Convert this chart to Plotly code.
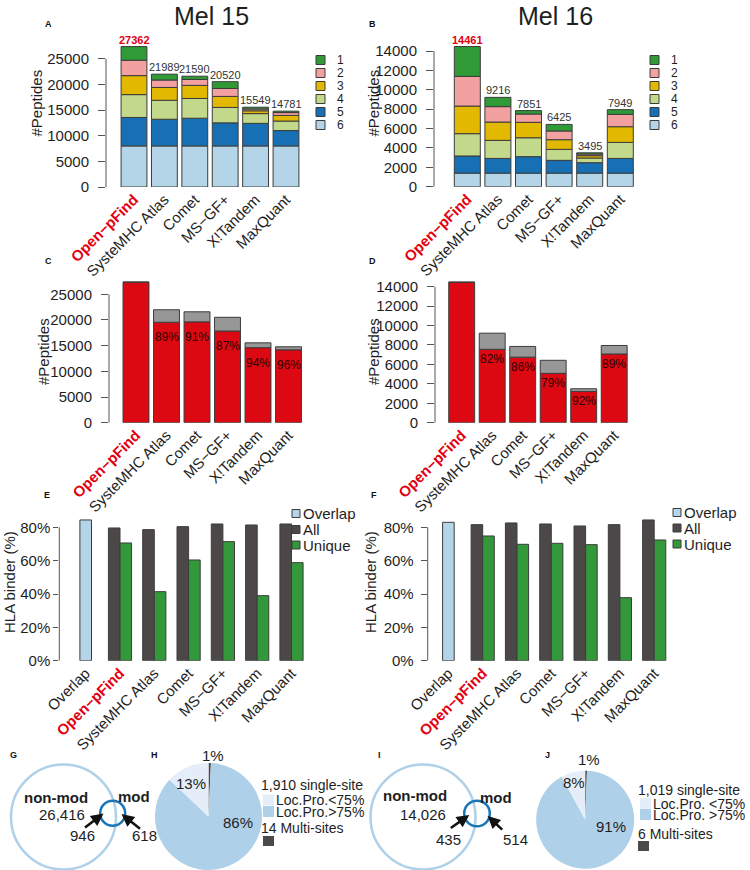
import plotly.graph_objects as go

W, H = 750, 870
FONT = "Liberation Sans, Arial, Helvetica, sans-serif"
TXT = "#1e1e1e"

# ---------------- data ----------------
tools = ["Open−pFind", "SysteMHC Atlas", "Comet", "MS−GF+", "X!Tandem", "MaxQuant"]
rank_names = ["1", "2", "3", "4", "5", "6"]

# Mel 15 peptide counts per rank
mel15_rank1 = [2662, 1139, 640, 1320, 349, 281]
mel15_rank2 = [3000, 1450, 1150, 1550, 350, 550]
mel15_rank3 = [3700, 2500, 2550, 2150, 550, 1100]
mel15_rank4 = [4450, 3700, 3850, 3000, 1900, 1850]
mel15_rank5 = [5550, 5200, 5400, 4500, 4400, 3000]
mel15_rank6 = [8000, 8000, 8000, 8000, 8000, 8000]
mel15_total = [27362, 21989, 21590, 20520, 15549, 14781]

# Mel 16 peptide counts per rank
mel16_rank1 = [3081, 956, 351, 675, 125, 489]
mel16_rank2 = [3060, 1590, 860, 900, 170, 1270]
mel16_rank3 = [2850, 1890, 1590, 1000, 240, 1620]
mel16_rank4 = [2300, 1860, 1950, 1130, 480, 1650]
mel16_rank5 = [1770, 1520, 1700, 1320, 1080, 1520]
mel16_rank6 = [1400, 1400, 1400, 1400, 1400, 1400]
mel16_total = [14461, 9216, 7851, 6425, 3495, 7949]

# peptides shared with Open-pFind
mel15_shared = [27362, 19560, 19640, 17850, 14610, 14190]
mel16_shared = [14461, 7560, 6750, 5080, 3215, 7075]

# HLA binder (%)
hla_cats = ["Overlap"] + tools
mel15_overlap = [84.4]
mel15_all = [79.6, 78.6, 80.4, 82.0, 81.4, 82.0]
mel15_unique = [70.6, 41.4, 60.4, 71.4, 39.0, 58.8]
mel16_overlap = [83.0]
mel16_all = [81.6, 82.6, 82.0, 80.8, 81.6, 84.4]
mel16_unique = [74.8, 69.8, 70.4, 69.6, 37.8, 72.4]

# Venn numbers
mel15_venn = {"nonmod": 26416, "shared": 946, "mod": 618}
mel16_venn = {"nonmod": 14026, "shared": 435, "mod": 514}

# localisation pies: [single <75%, single >75%, multi-sites]
pie_labels = ["Loc.Pro.<75%", "Loc.Pro.>75%", "Multi-sites"]
mel15_loc = [250, 1660, 14]
mel16_loc = [82, 937, 6]

# ---------------- styles ----------------
rank_colors = ["#2f9a36", "#f3a0a0", "#e2b800", "#c2d98b", "#1670b3", "#b4d4e8"]
RED = "#dc0913"
GRAY = "#979797"
C_OVER, C_ALL, C_UNI = "#b4d4e8", "#4c4848", "#33983a"
PIE_COLORS = ["#e5eef8", "#afd0e9", "#4c4949"]
EDGE = "#3c3c3c"

fig = go.Figure()
annotations = []
shapes = []


def px(p):
    return p / W


def py(p):
    return 1 - p / H


def styled(cats):
    out = []
    for c in cats:
        if c == "Open−pFind":
            out.append("<b><span style='color:#e3000f'>%s</span></b>" % c)
        else:
            out.append(c)
    return out


layout_axes = {}


def set_axes(n, xpx0, xpx1, c0, step, ypz, yptop, scale, cats, yticks, yticktext, ylinetop,
             ticklen=7, standoff=6):
    xa = "xaxis" if n == 1 else "xaxis%d" % n
    ya = "yaxis" if n == 1 else "yaxis%d" % n
    xr = "x" if n == 1 else "x%d" % n
    yr = "y" if n == 1 else "y%d" % n
    layout_axes[xa] = dict(
        domain=[px(xpx0), px(xpx1)], range=[(xpx0 - c0) / step, (xpx1 - c0) / step],
        anchor=yr, type="category", categoryorder="array", categoryarray=cats,
        tickmode="array", tickvals=cats, ticktext=styled(cats), tickangle=-45,
        tickfont=dict(size=15, color=TXT, family=FONT), ticks="", showline=False,
        showgrid=False, zeroline=False, fixedrange=True, automargin=False)
    layout_axes[ya] = dict(
        domain=[py(ypz), py(yptop)], range=[0, (ypz - yptop) / scale], anchor=xr,
        tickmode="array", tickvals=yticks, ticktext=yticktext, ticks="outside",
        ticklen=ticklen, tickwidth=1, tickcolor="#555", ticklabelstandoff=standoff,
        tickfont=dict(size=15, color=TXT, family=FONT), showline=False,
        showgrid=False, zeroline=False, fixedrange=True, automargin=False)
    shapes.append(dict(type="line", xref=xr + " domain", x0=0, x1=0, yref=yr,
                       y0=0, y1=ylinetop, line=dict(color="#555", width=1)))
    return xr, yr


# ---------------- A / B : stacked ranks ----------------
def stacked_panel(n, layers_bottom_up, totals, spec, yticks):
    xr, yr = set_axes(n, *spec, tools, yticks, [str(t) for t in yticks], yticks[-1])
    base = [0] * len(tools)
    cols = rank_colors[::-1]
    for vals, col in zip(layers_bottom_up, cols):
        fig.add_trace(go.Bar(x=tools, y=vals, base=base, width=0.85, xaxis=xr, yaxis=yr,
                             marker=dict(color=col, line=dict(color=EDGE, width=1)),
                             showlegend=False, hoverinfo="skip"))
        base = [b + v for b, v in zip(base, vals)]
    for t, tot in zip(tools, totals):
        red = t == "Open−pFind"
        annotations.append(dict(
            x=t, y=tot, xref=xr, yref=yr, yanchor="bottom", showarrow=False,
            text=("<b>%d</b>" % tot) if red else str(tot), yshift=-1,
            font=dict(size=11, color="#e3000f" if red else "#333", family=FONT)))


stacked_panel(1, [mel15_rank6, mel15_rank5, mel15_rank4, mel15_rank3, mel15_rank2, mel15_rank1],
              mel15_total, (106, 302, 134, 30.4, 187, 30, 128.3 / 25000),
              [0, 5000, 10000, 15000, 20000, 25000])
stacked_panel(2, [mel16_rank6, mel16_rank5, mel16_rank4, mel16_rank3, mel16_rank2, mel16_rank1],
              mel16_total, (434, 636, 467.3, 30.6, 186.7, 30, 135.7 / 14000),
              [0, 2000, 4000, 6000, 8000, 10000, 12000, 14000])


# ---------------- C / D : shared with Open-pFind ----------------
def shared_panel(n, shared, totals, spec, yticks, shift):
    xr, yr = set_axes(n, *spec, tools, yticks, [str(t) for t in yticks], yticks[-1])
    fig.add_trace(go.Bar(x=tools, y=shared, width=0.85, xaxis=xr, yaxis=yr,
                         marker=dict(color=RED, line=dict(color=EDGE, width=1)),
                         showlegend=False, hoverinfo="skip"))
    rest = [t - s for t, s in zip(totals, shared)]
    fig.add_trace(go.Bar(x=tools, y=rest, base=shared, width=0.85, xaxis=xr, yaxis=yr,
                         marker=dict(color=GRAY, line=dict(color=EDGE, width=1)),
                         showlegend=False, hoverinfo="skip"))
    for t, s, tot in zip(tools, shared, totals):
        if s == tot:
            continue
        annotations.append(dict(
            x=t, y=s, xref=xr, yref=yr, yanchor="middle", yshift=shift, showarrow=False,
            text="%d%%" % round(100 * s / tot), font=dict(size=12, color="#2a0000", family=FONT)))


shared_panel(3, mel15_shared, mel15_total, (109, 304, 136, 30.5, 422.7, 272, 128.4 / 25000),
             [0, 5000, 10000, 15000, 20000, 25000], -15)
shared_panel(4, mel16_shared, mel16_total, (435, 632, 461.7, 30.5, 422.7, 272, 136 / 14000),
             [0, 2000, 4000, 6000, 8000, 10000, 12000, 14000], -10)


# ---------------- E / F : HLA binders ----------------
def hla_panel(n, overlap, allv, uniq, spec, leg_x, leg_ys, tl, so):
    yt = [0, 20, 40, 60, 80]
    xr, yr = set_axes(n, *spec, hla_cats, yt, ["%d%%" % v for v in yt], 80, tl, so)
    bw = 0.338
    fig.add_trace(go.Bar(x=["Overlap"], y=overlap, width=bw, offset=-bw / 2, xaxis=xr, yaxis=yr,
                         marker=dict(color=C_OVER, line=dict(color=EDGE, width=1)),
                         showlegend=False, hoverinfo="skip"))
    fig.add_trace(go.Bar(x=tools, y=allv, width=bw, offset=-bw, xaxis=xr, yaxis=yr,
                         marker=dict(color=C_ALL, line=dict(color=EDGE, width=1)),
                         showlegend=False, hoverinfo="skip"))
    fig.add_trace(go.Bar(x=tools, y=uniq, width=bw, offset=0, xaxis=xr, yaxis=yr,
                         marker=dict(color=C_UNI, line=dict(color=EDGE, width=1)),
                         showlegend=False, hoverinfo="skip"))
    for name, col, yy in zip(["Overlap", "All", "Unique"], [C_OVER, C_ALL, C_UNI], leg_ys):
        shapes.append(dict(type="rect", xref="paper", yref="paper",
                           x0=px(leg_x), x1=px(leg_x + 8), y0=py(yy + 4), y1=py(yy - 4),
                           fillcolor=col, line=dict(color=EDGE, width=1)))
        annotations.append(dict(x=px(leg_x + 9), y=py(yy), xref="paper", yref="paper",
                                xanchor="left", yanchor="middle", showarrow=False, text=name,
                                font=dict(size=15, color=TXT, family=FONT)))


hla_panel(5, mel15_overlap, mel15_all, mel15_unique,
          (59.3, 312, 85.7, 34.3, 660.7, 505, 133.4 / 80), 292, [513.5, 529.5, 545], 5, 0)
hla_panel(6, mel16_overlap, mel16_all, mel16_unique,
          (427.7, 675, 448.4, 34.3, 660.7, 505, 133.4 / 80), 673, [512.5, 528, 544], 6, 4)


# ---------------- G / I : Venn ----------------
def venn(big, small, counts, pos, arrows):
    cx, cy, r = big
    shapes.append(dict(type="circle", xref="paper", yref="paper",
                       x0=px(cx - r), x1=px(cx + r), y0=py(cy + r), y1=py(cy - r),
                       line=dict(color="#aed0e9", width=2.5)))
    sx, sy, sr = small
    shapes.append(dict(type="circle", xref="paper", yref="paper",
                       x0=px(sx - sr), x1=px(sx + sr), y0=py(sy + sr), y1=py(sy - sr),
                       line=dict(color="#1a75b8", width=2.5)))
    texts = [("<b>non-mod</b>", pos[0]), ("{:,}".format(counts["nonmod"]), pos[1]),
             ("<b>mod</b>", pos[2]), (str(counts["shared"]), pos[3]), (str(counts["mod"]), pos[4])]
    for t, (x, y) in texts:
        annotations.append(dict(x=px(x), y=py(y), xref="paper", yref="paper", showarrow=False,
                                text=t, font=dict(size=15, color=TXT, family=FONT)))
    for (hx, hy, ax, ay) in arrows:
        annotations.append(dict(x=px(hx), y=py(hy), xref="paper", yref="paper", text="",
                                showarrow=True, arrowhead=2, arrowsize=1, arrowwidth=2.5,
                                arrowcolor="#111", ax=ax, ay=ay))


venn((63.5, 817, 52.5), (112.7, 813.3, 12.5), mel15_venn,
     [(56, 797.5), (61.5, 814), (134, 796), (82.5, 835), (144, 835)],
     [(103.5, 813.5, -20, 15), (121.5, 814, 20, 16)])
venn((423, 817, 52.5), (477, 813.5, 12.8), mel16_venn,
     [(414.5, 795.5), (423, 814), (496.3, 797), (448, 839), (515.3, 839)],
     [(469.3, 815, -20, 14), (487.7, 816, 16, 15)])


# ---------------- H / J : localisation pies ----------------
def pie(vals, dom, label_pos, leg, lab_single):
    # clockwise from 12 o'clock: multi-sites, >75%, <75% (so <75% sits left of top)
    fig.add_trace(go.Pie(values=vals[::-1], labels=pie_labels[::-1], sort=False,
                         direction="clockwise", rotation=0,
                         marker=dict(colors=PIE_COLORS[::-1], line=dict(width=0)),
                         textinfo="none", hoverinfo="skip", showlegend=False,
                         domain=dict(x=[px(dom[0]), px(dom[1])], y=[max(0, py(dom[3])), py(dom[2])])))
    tot = sum(vals)
    for v, (x, y) in zip(vals, label_pos):
        annotations.append(dict(x=px(x), y=py(y), xref="paper", yref="paper", showarrow=False,
                                text="%d%%" % max(1, round(100 * v / tot)),
                                font=dict(size=15, color=TXT, family=FONT)))
    lx, ysingle, sqx, ypale, yblue, ymulti, ydark, sq_multi_x = leg
    annotations.append(dict(x=px(lx), y=py(ysingle), xref="paper", yref="paper", xanchor="left",
                            showarrow=False, text="{:,} single-site".format(vals[0] + vals[1]),
                            font=dict(size=14, color=TXT, family=FONT)))
    for txt, col, yy in [(lab_single[0], PIE_COLORS[0], ypale), (lab_single[1], PIE_COLORS[1], yblue)]:
        shapes.append(dict(type="rect", xref="paper", yref="paper", x0=px(sqx), x1=px(sqx + 11),
                           y0=py(yy + 5.5), y1=py(yy - 5.5), fillcolor=col, line=dict(width=0)))
        annotations.append(dict(x=px(sqx + 11), y=py(yy), xref="paper", yref="paper",
                                xanchor="left", showarrow=False, text=txt,
                                font=dict(size=14, color=TXT, family=FONT)))
    annotations.append(dict(x=px(lx), y=py(ymulti), xref="paper", yref="paper", xanchor="left",
                            showarrow=False, text="%d Multi-sites" % vals[2],
                            font=dict(size=14, color=TXT, family=FONT)))
    shapes.append(dict(type="rect", xref="paper", yref="paper", x0=px(sq_multi_x),
                       x1=px(sq_multi_x + 11), y0=py(ydark + 5), y1=py(ydark - 5),
                       fillcolor=PIE_COLORS[2], line=dict(width=0)))


pie(mel15_loc, (154.5, 262.5, 763, 870), [(191, 783), (238, 822), (213, 755)],
    (259, 785, 263, 800, 811.5, 828, 841, 263), ["Loc.Pro.<75%", "Loc.Pro.>75%"])
pie(mel16_loc, (536, 634.4, 770.7, 868.7), [(574, 782), (610.7, 826), (589, 759)],
    (636, 790, 640, 803.5, 814.5, 833.5, 846, 638), ["Loc.Pro. <75%", "Loc.Pro. >75%"])


# ---------------- rank legends (A/B) ----------------
for lx in (316, 650):
    for i, (name, col) in enumerate(zip(rank_names, rank_colors)):
        yy = 60 + 13 * i
        shapes.append(dict(type="rect", xref="paper", yref="paper", x0=px(lx), x1=px(lx + 9),
                           y0=py(yy + 4.5), y1=py(yy - 4.5), fillcolor=col,
                           line=dict(color=EDGE, width=1)))
        annotations.append(dict(x=px(lx + 19), y=py(yy), xref="paper", yref="paper",
                                xanchor="left", showarrow=False, text=name,
                                font=dict(size=12, color=TXT, family=FONT)))

# ---------------- titles, axis titles, panel letters ----------------
for t, x in [("Mel 15", 211), ("Mel 16", 555.5)]:
    annotations.append(dict(x=px(x), y=py(15.5), xref="paper", yref="paper", showarrow=False,
                            text=t, font=dict(size=25, color=TXT, family=FONT)))
for t, x, y in [("#Peptides", 36, 103.5), ("#Peptides", 373, 103.5),
                ("#Peptides", 43, 352), ("#Peptides", 373, 352),
                ("HLA binder (%)", 9, 582), ("HLA binder (%)", 370, 582)]:
    annotations.append(dict(x=px(x), y=py(y), xref="paper", yref="paper", showarrow=False,
                            text=t, textangle=-90, font=dict(size=15, color=TXT, family=FONT)))
for t, x, y in [("A", 48, 24), ("B", 372, 24), ("C", 48, 261), ("D", 372, 261),
                ("E", 47, 495), ("F", 374, 495), ("G", 13, 755), ("H", 154, 755),
                ("I", 379, 755), ("J", 547, 755)]:
    annotations.append(dict(x=px(x), y=py(y), xref="paper", yref="paper", showarrow=False,
                            text="<b>%s</b>" % t, font=dict(size=9, color="#111", family=FONT)))

for a in annotations:
    a.setdefault("xanchor", "center")
    a.setdefault("yanchor", "middle")

fig.update_layout(
    width=W, height=H, margin=dict(l=0, r=0, t=0, b=0, pad=0, autoexpand=False),
    paper_bgcolor="white", plot_bgcolor="white", barmode="overlay",
    font=dict(family=FONT, color=TXT), showlegend=False,
    annotations=annotations, shapes=shapes, **layout_axes)

fig.write_html("out.html", config={"displayModeBar": False, "staticPlot": True},
               post_script="document.body.style.margin='0px';")
